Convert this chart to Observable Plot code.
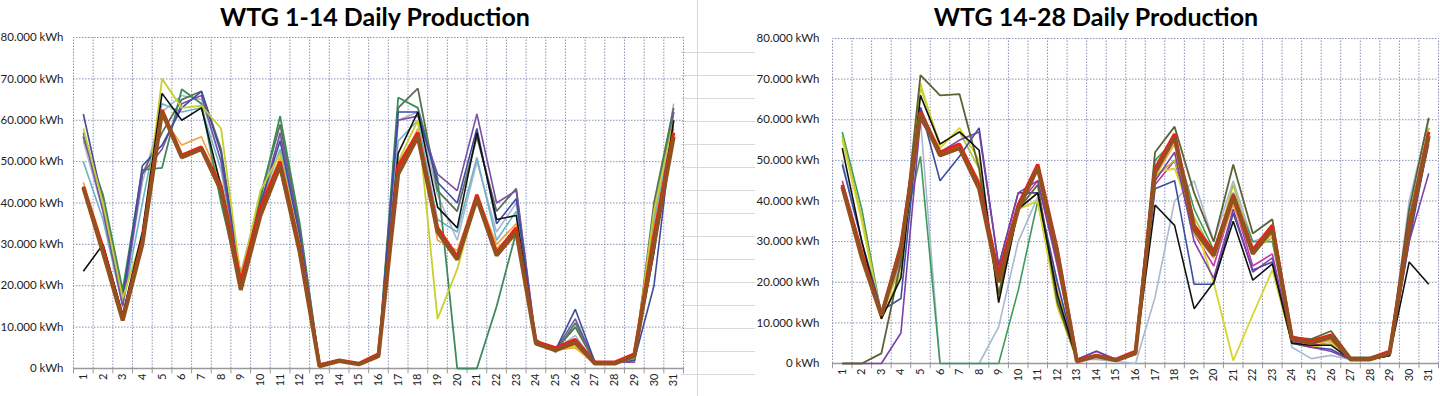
<!DOCTYPE html>
<html><head><meta charset="utf-8">
<script src="https://cdn.jsdelivr.net/npm/d3@7"></script>
<script src="https://cdn.jsdelivr.net/npm/@observablehq/plot@0.6"></script>
<style>
html,body{margin:0;padding:0;background:#fff;}
#wrap{position:relative;width:1440px;height:396px;overflow:hidden;font-family:Lato,"Liberation Sans",sans-serif;}
.title{position:absolute;top:1px;font-weight:bold;font-size:25px;color:#000;text-align:center;white-space:nowrap;}
#cells{position:absolute;left:681px;top:30px;width:74px;height:366px;
 background-image:repeating-linear-gradient(to bottom, transparent 0px, transparent 22px, #d9d9d9 22px, #d9d9d9 23px);}
#vline{position:absolute;left:697px;top:0;width:1px;height:396px;background:#d9d9d9;}
.chart{position:absolute;top:0;}
</style></head>
<body><div id="wrap">
<div id="cells"></div><div id="vline"></div>
<div id="c1" class="chart" style="left:0"></div>
<div id="c2" class="chart" style="left:720px"></div>
<div class="title" style="left:175px;width:400px">WTG 1-14 Daily Production</div>
<div class="title" style="left:896px;width:400px">WTG 14-28 Daily Production</div>
</div>
<script>
const days = [1,2,3,4,5,6,7,8,9,10,11,12,13,14,15,16,17,18,19,20,21,22,23,24,25,26,27,28,29,30,31];
const yTicks = [0,10000,20000,30000,40000,50000,60000,70000,80000];
const titles = ["WTG 1-14 Daily Production","WTG 14-28 Daily Production"];

// Left panel (values in thousand kWh)
const leftNames  = ["Light gray-blue","Teal","Orange","Olive","Dark green","Purple","Navy","Yellow","Black","Red","Total"];
const leftColors = ["#a9b7cf","#6fb3c9","#f2a23a","#5d6e57","#3f8a5c","#7b4fa6","#3d4d9e","#c9cf2e","#111111","#e2261b","#94501f"];
const leftWidths = [1.6,1.6,1.6,1.8,1.8,1.6,1.6,1.8,1.6,3.4,4];
const lLightBlue = [55,38,16,45,62,66,65,50,23,42,56,31,1,2,1,3,60,62,42,31,50,33,40,6,4.5,8,1.3,1.3,2,36,64];
const lTeal      = [50,36,15,40,64,62,63,48,22,40,53,32,1,2,1,3,55,60,36,33,51,31,38,6,4.5,7,1.3,1.3,2.5,35,60];
const lOrange    = [45,30,13,32,61,54,56,45,23,40,51,30,1,2,1,3,48,58,31,28.5,42,30,35,6,4.5,5,1.2,1.2,2.5,34,58];
const lOlive     = [56,41,18,47,57,65,67,53,22,42,59,34,1,2,1,3,63,67.7,43,38,56,38,43.5,6.5,4.5,10,1.5,1.5,2,40,63];
const lDarkGreen = [56,42,19,48,48.5,67.5,64,40,20,41,61,35,1,2,1,3,65.5,63,46,0,0,15,33,7,4,11,1.5,1.5,2,38,62];
const lPurple    = [57,38,15,47,53,64,66,50,21,39,57,33,1,2,1,3,60,61,47,43,61.5,40,43,6.5,4.5,12,1.5,1.5,1.5,30,62];
const lNavy      = [61.5,40,17,49,54,63,67,52,22,40,55,32,1,2,1,3,62,62,45,40,58,35,41,6,4.5,14.3,1.5,1.5,2,20,60];
const lYellow    = [58,40,17,32,70,63,63.5,58,22,43,52,30,1,2,1,3,50,60,12,24,41,29,33,6,4.5,5.5,1.2,1.2,2.5,38,60];
const lBlack     = [23.5,30,13,33,66.5,60,63,44,20,39,48,28,0.5,1.8,1,3,52,62,39,34,57,36,37,6,4.5,6,1.2,1.2,3,28,60];
const lRed       = [44,29,12,31,62.5,51.5,53.5,44,21,39,50,29,0.8,2,1.2,3.5,49,57,34,27,42,28,34,6.5,5,7,1.5,1.5,3.5,32,57];
const lTotal     = [43.7,28,11.6,30,62,51,53,43,19,37,49,28,0.5,1.8,1,3,47,56,33,26.3,41,27.3,33,6,4.4,6.3,1.2,1.2,3,30,56];
const leftSeries = [lLightBlue,lTeal,lOrange,lOlive,lDarkGreen,lPurple,lNavy,lYellow,lBlack,lRed,lTotal];

// Right panel (values in thousand kWh)
const rightNames  = ["Light gray-blue","Green","Magenta","Orange","Yellow-green","Yellow","Navy","Purple","Olive","Black","Red","Total"];
const rightColors = ["#a9b9d2","#3f9a5a","#c23aa8","#f2a23a","#a9c23f","#d6d62a","#3d4d9e","#7b3fa6","#5b6233","#111111","#e2261b","#94501f"];
const rightWidths = [1.6,1.6,1.6,1.6,1.6,1.8,1.6,1.6,1.8,1.6,3.4,4];
const rLightBlue = [50,30,12,25,60,0,0,0,9,30,41,20,1,1,0.5,0,16.3,40,45,30,45,30,32,4,1.2,2,1,1,2,40,60];
const rGreen     = [57,38,12,30,51,0,0,0,0,18,40,16,1,2,1,2.5,50,55,38,28,42,30,30,6,5,6,1,1,2.5,36,58];
const rMagenta   = [45,28,12,26,63,51,53,45,21,39,45,24,1,2,1,2.5,44,50,32,24,40,24,27,5,4.5,5,1,1,2,32,54];
const rOrange    = [44,28,11,27,62,52,54,45,20,38,42,18,1,2,1,2.5,46,54,32,26,39,27,32,6,5,5.5,1,1,2.5,33,57];
const rYellowGr  = [56,36,12,24,68,54,57,48,17,38,40,15,1,2,1,2.5,46,50,36,27,44,28,31,5.5,5,6,1,1,2.5,35,58];
const rYellow    = [55,35,11,22,69,53,58,50,15.5,38,40,14,1,2,1,2.5,47,48,35,20,0.7,12,23,5,4,5,1,1,2,34,57];
const rNavy      = [49,30,13,16,63,45,51,58,24,42,42,20,1,3,1,2.5,43,45,19.5,19.5,37,23,25,5,4,3.5,1,1,2,30,55];
const rPurple    = [0,0,0,7.5,60,52,55,57,24,42,45,25,1,3,1,2.5,45,52,30,21,38,22.5,26,5.5,4,3,1,1,2,30,46.8];
const rOlive     = [0,0,2.5,25,71,66,66.3,48,17,38,44,15,1,2,1,2.5,52,58.3,42,30,49,32,35.5,6.5,6,8,1.5,1.5,3,38,60.5];
const rBlack     = [53,30,11,21,66,54,57,52.5,15,38,42,17,1,2,1,2.5,39,34,13.5,20,35,20.5,24.5,5,4.5,4.5,1,1,2,25,19.5];
const rRed       = [44,27,12,29,62,52,54,44,22,39,49,28,0.8,2,1,3,48,56.5,34,27.5,41.5,28,34,6.5,5.5,7,1.2,1.2,3,34,57];
const rTotal     = [43.5,26,11.8,28,61.5,51.2,53,43,20,38,48.2,27,0.5,1.8,0.8,2.5,47,55.6,33,26.6,41,27,33,6,5,6.5,1,1,2.5,33,56];
const rightSeries = [rLightBlue,rGreen,rMagenta,rOrange,rYellowGr,rYellow,rNavy,rPurple,rOlive,rBlack,rRed,rTotal];

const fmt = v => d3.format(",")(v).replace(/,/g, ".") + " kWh";
const gridColor = "#8893b3";
const bounds = days.map(d => d - 0.5).concat([days[days.length - 1] + 0.5]);

function tidy(names, series) {
  return names.flatMap((n, i) => series[i].map((v, j) => ({name: n, day: days[j], value: v * 1000, idx: i})));
}

function chart(names, colors, widths, series, m) {
  const data = tidy(names, series);
  const lineMarks = names.map((n, i) =>
    Plot.line(data.filter(d => d.name === n), {x: "day", y: "value", stroke: colors[i], strokeWidth: widths[i], strokeLinejoin: "miter", strokeLinecap: "butt"}));
  return Plot.plot({
    width: 720, height: 396,
    marginLeft: m.left, marginRight: m.right, marginTop: m.top, marginBottom: m.bottom,
    x: {domain: [0.5, 31.5], axis: null},
    y: {domain: [0, 80000], axis: null},
    style: {fontFamily: "Lato, 'Liberation Sans', sans-serif", background: "transparent", color: "#222"},
    marks: [
      Plot.ruleY(yTicks.slice(1), {stroke: gridColor, strokeDasharray: "1.5,1.5", strokeWidth: 1}),
      Plot.ruleX(bounds, {y1: 0, y2: 80000, stroke: gridColor, strokeDasharray: "1.5,1.5", strokeWidth: 1}),
      Plot.ruleX(bounds, {y1: 0, y2: -1300, stroke: "#9a9a9a", strokeWidth: 1}),
      Plot.ruleY([0], {stroke: "#9a9a9a", strokeWidth: 1.5}),
      Plot.axisY(yTicks, {tickSize: 0, tickPadding: m.pad, tickFormat: fmt, fontSize: 11.5, label: null}),
      Plot.axisX(days, {tickRotate: -90, tickSize: 0, tickPadding: 5, fontSize: 11, label: null}),
      ...lineMarks
    ]
  });
}

document.getElementById("c1").append(chart(leftNames, leftColors, leftWidths, leftSeries, {left: 73, right: 37, top: 37, bottom: 28, pad: 10}));
document.getElementById("c2").append(chart(rightNames, rightColors, rightWidths, rightSeries, {left: 112, right: 2, top: 38, bottom: 33, pad: 13}));
</script>
</body></html>
